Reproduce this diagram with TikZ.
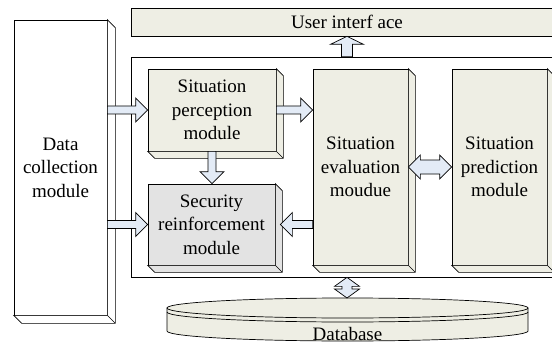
\documentclass[tikz,border=0pt]{standalone}
\usepackage{fontspec}
\setmainfont{Liberation Serif}
\newfontfamily\diagfont{Liberation Serif}
\usetikzlibrary{shapes,calc}

\definecolor{boxfill}{HTML}{EEEEE4}
\definecolor{secfill}{HTML}{E3E3E3}
\definecolor{arrfill}{HTML}{E3EBF6}

\begin{document}
\begin{tikzpicture}[x=1pt,y=-1pt,line width=0.7pt,
  every node/.style={font=\diagfont\fontsize{19}{23.5}\selectfont,align=center,inner sep=0pt},
  box/.style 2 args={draw,rectangle,minimum width=#1pt,minimum height=#2pt},
  fatshaft/.store in=\fatw, fathead/.store in=\fath, fathl/.store in=\fatl,
  fatshaft=4pt, fathead=12pt, fathl=12pt,
  fat/.style={draw,fill=arrfill,to path={let \p1=(\tikztostart), \p2=(\tikztotarget), \p3=($(\p2)!\fatl!(\p1)$) in
    ($(\p1)!\fatw!90:(\p2)$) -- ($(\p3)!\fatw!-90:(\p1)$) -- ($(\p3)!\fath!-90:(\p1)$) -- (\p2)
    -- ($(\p3)!\fath!90:(\p1)$) -- ($(\p3)!\fatw!90:(\p1)$) -- ($(\p1)!\fatw!-90:(\p2)$) -- cycle}},
  fatboth/.style={draw,fill=arrfill,to path={let \p1=(\tikztostart), \p2=(\tikztotarget), \p3=($(\p2)!\fatl!(\p1)$), \p4=($(\p1)!\fatl!(\p2)$) in
    (\p1) -- ($(\p4)!\fath!90:(\p2)$) -- ($(\p4)!\fatw!90:(\p2)$) -- ($(\p3)!\fatw!-90:(\p1)$) -- ($(\p3)!\fath!-90:(\p1)$) -- (\p2)
    -- ($(\p3)!\fath!90:(\p1)$) -- ($(\p3)!\fatw!90:(\p1)$) -- ($(\p4)!\fatw!-90:(\p2)$) -- ($(\p4)!\fath!-90:(\p2)$) -- cycle}}]
\useasboundingbox (0,0) rectangle (552,345);
\clip (0,0) rectangle (552,345);
\node[box={93}{295},fill=white] (data) at (60.5,167.5) {Data\\collection\\module};
\node[box={432}{28},fill=boxfill] (ui) at (347,22) {User interf ace};
\node[box={432}{220}] (core) at (347,167) {};
\node[box={128}{82},fill=boxfill] (perc) at (212,110) {Situation\\perception\\module};
\node[box={127}{81},fill=secfill] (secu) at (211.5,224.5) {Security\\reinforcement\\module};
\node[box={95}{196},fill=boxfill] (eval) at (360.5,167) {Situation\\evaluation\\moudue};
\node[box={95}{196},fill=boxfill] (pred) at (499.5,167) {Situation\\prediction\\module};
\foreach \n/\d/\c in {data/8/white,perc/7/boxfill,secu/7/secfill,eval/7/boxfill,pred/7/boxfill}
  \draw[fill=\c] (\n.north east) -- ++(\d,\d) -- ($(\n.south east)+(\d,\d)$) -- ($(\n.south west)+(\d,\d)$)
    -- (\n.south west) -- (\n.south east) -- cycle (\n.south east) -- ++(\d,\d);
\draw[fill=boxfill] (167,308) -- (167,331) arc[start angle=180,end angle=360,x radius=180.5pt,y radius=10pt] -- (528,308) -- cycle;
\draw[fill=boxfill] (347.5,308) ellipse[x radius=180.5pt,y radius=10pt];
\draw (167,312) arc[start angle=180,end angle=360,x radius=180.5pt,y radius=10pt];
\coordinate (dbtop) at (347,298);
\node (db) at (347.5,334) {Database};
\draw[fat] (data.east|-perc) to (perc.west);
\draw[fat] (data.east|-secu) to (secu.west);
\draw[fat] (perc.east) to (eval.west|-perc);
\draw[fat] (perc.south) to (perc.south|-secu.north);
\draw[fat] (eval.west|-secu) to ($(secu.east)+(5,0)$);
\draw[fatboth,fatshaft=7pt] (eval.east) to (pred.west);
\draw[fat,fatshaft=5.5pt,fathead=16.5pt,fathl=8pt] (core.north) to (ui.south);
\draw[fatboth,fatshaft=5pt,fathead=12.5pt,fathl=9pt] (core.south) to (dbtop);
\end{tikzpicture}
\end{document}
